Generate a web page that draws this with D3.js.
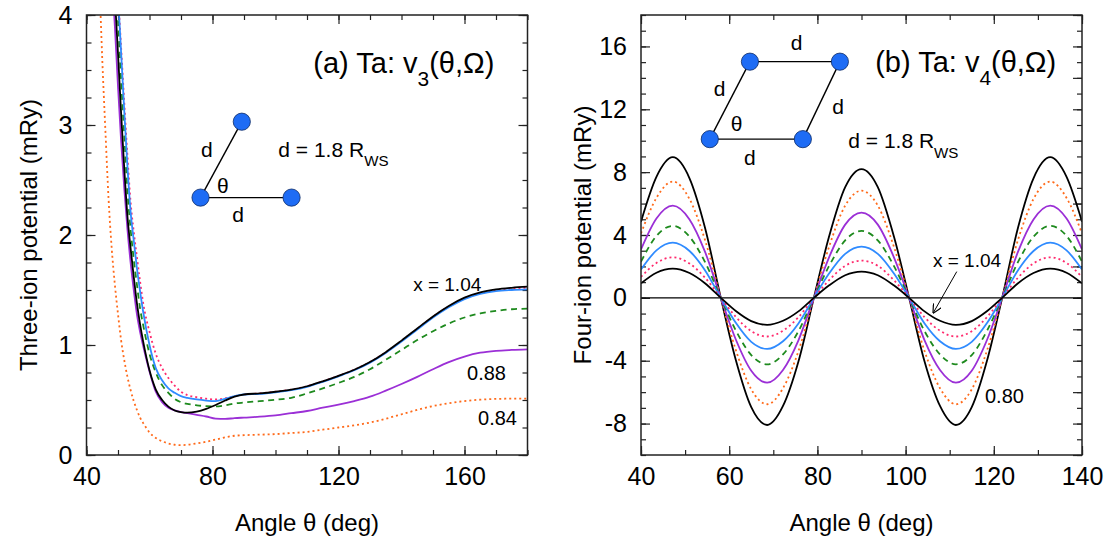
<!DOCTYPE html>
<html><head><meta charset="utf-8">
<script src="https://cdn.jsdelivr.net/npm/d3@7"></script>
<style>
body{margin:0;background:#fff;}
text{font-family:"Liberation Sans",Arial,Helvetica,sans-serif;fill:#000;}
</style></head>
<body><svg id="c" width="1107" height="541"></svg>
<script>
// ---------- Panel (a): three-ion potential ----------
const thetaA = [44,45,46,47,48,49,50,51,52,53,54,55,56,57,58,60,62,64,66,68,70,72,75,78,81,84,87,90,95,100,105,110,115,120,125,130,135,140,145,150,155,160,165,170,175,180];
const v3_104 = [null,null,null,null,4.75,4.17,3.65,3.1,2.6,2.17,1.88,1.62,1.38,1.19,1.03,0.77,0.595,0.50,0.44,0.405,0.39,0.385,0.395,0.42,0.455,0.495,0.53,0.55,0.56,0.575,0.595,0.625,0.67,0.72,0.775,0.845,0.935,1.04,1.15,1.26,1.355,1.43,1.478,1.505,1.52,1.53];
const v3_100 = [null,null,null,null,null,4.7,4.2,3.7,3.2,2.72,2.3,2.03,1.8,1.58,1.38,1.12,0.92,0.79,0.70,0.63,0.575,0.545,0.525,0.512,0.505,0.515,0.535,0.55,0.56,0.575,0.595,0.625,0.67,0.72,0.775,0.845,0.933,1.037,1.147,1.257,1.351,1.425,1.472,1.498,1.513,1.52];
const v3_096 = [null,null,null,null,null,4.65,4.18,3.65,3.12,2.62,2.21,1.95,1.7,1.49,1.30,1.0,0.79,0.68,0.605,0.565,0.535,0.52,0.505,0.495,0.49,0.51,0.535,0.55,0.555,0.57,0.59,0.62,0.665,0.715,0.77,0.84,0.928,1.031,1.14,1.249,1.343,1.417,1.464,1.49,1.5,1.505];
const v3_092 = [null,null,null,null,5.0,4.45,3.95,3.4,2.9,2.4,2.05,1.78,1.55,1.335,1.18,0.92,0.75,0.635,0.565,0.51,0.48,0.465,0.452,0.444,0.442,0.452,0.468,0.477,0.49,0.502,0.52,0.56,0.605,0.655,0.71,0.78,0.865,0.955,1.045,1.125,1.195,1.25,1.287,1.31,1.325,1.33];
const v3_088 = [null,null,null,5.0,4.4,3.9,3.35,2.85,2.42,2.05,1.75,1.5,1.28,1.12,0.99,0.76,0.575,0.48,0.43,0.405,0.39,0.38,0.365,0.35,0.33,0.328,0.335,0.34,0.348,0.36,0.38,0.40,0.43,0.457,0.49,0.53,0.585,0.645,0.71,0.78,0.845,0.895,0.93,0.947,0.955,0.96];
const v3_084 = [4.4,3.6,2.95,2.33,1.88,1.55,1.28,1.04,0.86,0.71,0.59,0.49,0.41,0.34,0.29,0.205,0.155,0.125,0.105,0.093,0.09,0.093,0.105,0.12,0.14,0.16,0.175,0.18,0.185,0.19,0.2,0.21,0.23,0.25,0.27,0.295,0.33,0.37,0.41,0.445,0.47,0.49,0.503,0.51,0.512,0.512];
const xTicksA = [40,80,120,160];
const yTicksA = [0,1,2,3,4];

// ---------- Panel (b): four-ion potential ----------
const thetaB = [40,43.5,47.2,51,54.5,58.1,61.5,65,68.6,72.2,75.7,79.2,82.6,86.3,90,93.7,97.4,100.8,104.3,107.8,111.4,115,118.5,121.9,125.5,129,132.8,136.5,140];
const v4_080 = [4.85,7.70,8.95,7.61,4.48,0,-3.96,-6.96,-8.09,-6.88,-4.05,0,3.85,7.04,8.19,7.04,3.85,0,-4.05,-6.88,-8.09,-6.96,-3.96,0,4.48,7.61,8.95,7.70,4.85];
const v4_084 = [4.1,6.36,7.40,6.29,3.70,0,-3.32,-5.82,-6.77,-5.75,-3.39,0,3.21,5.87,6.82,5.87,3.21,0,-3.39,-5.75,-6.77,-5.82,-3.32,0,3.70,6.29,7.40,6.36,4.1];
const v4_088 = [3.08,5.05,5.87,4.99,2.94,0,-2.65,-4.64,-5.40,-4.59,-2.70,0,2.55,4.66,5.42,4.66,2.55,0,-2.70,-4.59,-5.40,-4.64,-2.65,0,2.94,4.99,5.87,5.05,3.08];
const v4_092 = [2.3,3.94,4.58,3.89,2.29,0,-2.07,-3.64,-4.23,-3.60,-2.12,0,2.00,3.66,4.26,3.66,2.00,0,-2.12,-3.60,-4.23,-3.64,-2.07,0,2.29,3.89,4.58,3.94,2.3];
const v4_096 = [1.8,3.02,3.51,2.98,1.76,0,-1.59,-2.80,-3.25,-2.76,-1.63,0,1.53,2.80,3.26,2.80,1.53,0,-1.63,-2.76,-3.25,-2.80,-1.59,0,1.76,2.98,3.51,3.02,1.8];
const v4_100 = [1.33,2.22,2.58,2.19,1.29,0,-1.21,-2.12,-2.46,-2.09,-1.23,0,1.11,2.04,2.37,2.04,1.11,0,-1.23,-2.09,-2.46,-2.12,-1.21,0,1.29,2.19,2.58,2.22,1.33];
const v4_104 = [0.92,1.60,1.86,1.58,0.93,0,-0.84,-1.48,-1.72,-1.46,-0.86,0,0.78,1.44,1.67,1.44,0.78,0,-0.86,-1.46,-1.72,-1.48,-0.84,0,0.93,1.58,1.86,1.60,0.92];
const xTicksB = [40,60,80,100,120,140];
const yTicksB = [-8,-4,0,4,8,12,16];

// ---------- styles ----------
const styles = {
  "1.04": {color:"#000000", dash:null},
  "1.00": {color:"#ff2a6d", dash:"2,3"},
  "0.96": {color:"#2f8bff", dash:null},
  "0.92": {color:"#1e8a1e", dash:"6,4.5"},
  "0.88": {color:"#9b2fd6", dash:null},
  "0.84": {color:"#ff6a1a", dash:"2,3"},
  "0.80": {color:"#000000", dash:null}
};

const svg = d3.select("#c");
const FONT_TICK = 25;
const FONT_TITLE = 24;

function panel(opts){
  const g = svg.append("g");
  const x = d3.scaleLinear().domain(opts.xd).range(opts.xr);
  const y = d3.scaleLinear().domain(opts.yd).range(opts.yr);
  const clipId = "clip"+opts.id;
  svg.append("clipPath").attr("id",clipId).append("rect")
    .attr("x",opts.xr[0]).attr("y",opts.yr[1]).attr("width",opts.xr[1]-opts.xr[0]).attr("height",opts.yr[0]-opts.yr[1]);

  const ax = (axis, tr) => { const a = g.append("g").attr("transform",tr).call(axis);
    a.select(".domain").remove(); a.selectAll("line").attr("stroke","#222").attr("stroke-width",1.2);
    a.selectAll("text").attr("font-size",FONT_TICK).attr("font-family","Liberation Sans, Arial, sans-serif").attr("fill","#000"); return a; };
  const y0 = opts.yr[0], y1 = opts.yr[1], x0 = opts.xr[0], x1 = opts.xr[1];
  // minor
  ax(d3.axisBottom(x).tickValues(opts.xMinor).tickSize(-5).tickFormat(""), `translate(0,${y0})`);
  ax(d3.axisTop(x).tickValues(opts.xMinor).tickSize(-5).tickFormat(""), `translate(0,${y1})`);
  ax(d3.axisLeft(y).tickValues(opts.yMinor).tickSize(-5).tickFormat(""), `translate(${x0},0)`);
  ax(d3.axisRight(y).tickValues(opts.yMinor).tickSize(-5).tickFormat(""), `translate(${x1},0)`);
  // major
  ax(d3.axisBottom(x).tickValues(opts.xTicks).tickSize(-9).tickPadding(12).tickFormat(d3.format("d")), `translate(0,${y0})`);
  ax(d3.axisTop(x).tickValues(opts.xTicks).tickSize(-9).tickFormat(""), `translate(0,${y1})`);
  ax(d3.axisLeft(y).tickValues(opts.yTicks).tickSize(-9).tickPadding(14).tickFormat(d=>String(d)), `translate(${x0},0)`);
  ax(d3.axisRight(y).tickValues(opts.yMajorNoLabel||opts.yTicks).tickSize(-9).tickFormat(""), `translate(${x1},0)`);

  const curves = g.append("g").attr("clip-path",`url(#${clipId})`);
  if (opts.zeroLine) curves.append("line").attr("x1",x0).attr("x2",x1).attr("y1",y(0)).attr("y2",y(0)).attr("stroke","#000").attr("stroke-width",1.4);
  opts.series.forEach(s => {
    const st = styles[s.key];
    const line = d3.line().defined(d=>d[1]!==null).x(d=>x(d[0])).y(d=>y(d[1])).curve(d3.curveMonotoneX);
    curves.append("path").datum(s.theta.map((t,i)=>[t,s.vals[i]]))
      .attr("d",line).attr("fill","none").attr("stroke",st.color).attr("stroke-width",1.8)
      .attr("stroke-dasharray",st.dash);
  });
  g.append("rect").attr("x",x0).attr("y",y1).attr("width",x1-x0).attr("height",y0-y1)
    .attr("fill","none").attr("stroke","#222").attr("stroke-width",1.5);
  // axis titles
  g.append("text").attr("x",(x0+x1)/2).attr("y",531).attr("text-anchor","middle").attr("font-size",FONT_TITLE).text("Angle θ (deg)");
  g.append("text").attr("transform",`translate(${opts.ylabX},${(y0+y1)/2}) rotate(-90)`).attr("text-anchor","middle").attr("font-size",FONT_TITLE).text(opts.ylab);
  return {g,x,y};
}

function range(a,b,s){const r=[];for(let v=a;v<=b+1e-9;v+=s)r.push(+v.toFixed(4));return r;}

// Panel (a)
const A = panel({id:"a", xd:[40,180], xr:[86.5,527.5], yd:[0,4], yr:[455,15],
  xTicks:xTicksA, yTicks:yTicksA, xMinor:range(40,180,10), yMinor:range(0,4,0.25),
  ylab:"Three-ion potential (mRy)", ylabX:37,
  series:[
    {key:"0.84",theta:thetaA,vals:v3_084},
    {key:"0.88",theta:thetaA,vals:v3_088},
    {key:"0.92",theta:thetaA,vals:v3_092},
    {key:"1.00",theta:thetaA,vals:v3_100},
    {key:"0.96",theta:thetaA,vals:v3_096},
    {key:"1.04",theta:thetaA,vals:v3_104}
  ]});

// Panel (b)
const B = panel({id:"b", xd:[40,140], xr:[641,1082], yd:[-10,18], yr:[455,15],
  xTicks:xTicksB, yTicks:yTicksB, xMinor:range(40,140,10), yMinor:range(-10,18,1), yMajorNoLabel:range(-10,18,2),
  ylab:"Four-ion potential (mRy)", ylabX:591, zeroLine:true,
  series:[
    {key:"0.80",theta:thetaB,vals:v4_080},
    {key:"0.84",theta:thetaB,vals:v4_084},
    {key:"0.88",theta:thetaB,vals:v4_088},
    {key:"0.92",theta:thetaB,vals:v4_092},
    {key:"0.96",theta:thetaB,vals:v4_096},
    {key:"1.00",theta:thetaB,vals:v4_100},
    {key:"1.04",theta:thetaB,vals:v4_104}
  ]});

// ---------- annotations ----------
const ATOM = "#1e6cf5";
function bond(P,a,b){P.g.append("line").attr("x1",P.x(a[0])).attr("y1",P.y(a[1])).attr("x2",P.x(b[0])).attr("y2",P.y(b[1])).attr("stroke","#000").attr("stroke-width",1.4);}
function atom(P,a){P.g.append("circle").attr("cx",P.x(a[0])).attr("cy",P.y(a[1])).attr("r",8.6).attr("fill",ATOM).attr("stroke","#0b2a66").attr("stroke-width",0.8);}
function label(P,p,txt,size,anchor){return P.g.append("text").attr("x",P.x(p[0])).attr("y",P.y(p[1])).attr("font-size",size).attr("text-anchor",anchor||"start").text(txt);}
function sub(P,p,main,s,after,size){
  const t = P.g.append("text").attr("x",P.x(p[0])).attr("y",P.y(p[1])).attr("font-size",size);
  t.append("tspan").text(main);
  t.append("tspan").attr("dy",size*0.45).attr("font-size",size*0.72).text(s);
  if(after) t.append("tspan").attr("dy",-size*0.45).text(after);
  return t;
}

// (a) inset
const a1=[76.2,2.34], a2=[89.3,3.03], a3=[105.1,2.34];
bond(A,a1,a2); bond(A,a1,a3); atom(A,a1); atom(A,a2); atom(A,a3);
label(A,[78.2,2.71],"d",21,"middle");
label(A,[83.3,2.38],"θ",21,"middle");
label(A,[88.1,2.12],"d",21,"middle");
sub(A,[100.9,2.71],"d = 1.8 R","WS",null,21);
sub(A,[112,3.47],"(a) Ta: v","3","(θ,Ω)",29);
label(A,[143.7,1.49],"x = 1.04",19);
label(A,[160.8,0.68],"0.88",20);
label(A,[164.3,0.27],"0.84",20);

// (b) inset
const b1=[55.6,10.1], b2=[76.7,10.1], b3=[64.7,15.03], b4=[85.1,15.03];
bond(B,b1,b2); bond(B,b1,b3); bond(B,b3,b4); bond(B,b2,b4);
[b1,b2,b3,b4].forEach(p=>atom(B,p));
label(B,[75.3,15.79],"d",21,"middle");
label(B,[57.8,12.86],"d",21,"middle");
label(B,[84.7,11.72],"d",21,"middle");
label(B,[61.7,10.64],"θ",21,"middle");
label(B,[64.7,8.47],"d",21,"middle");
sub(B,[93.1,14.4],"(b) Ta: v","4","(θ,Ω)",29);
sub(B,[87.0,9.52],"d = 1.8 R","WS",null,21);
label(B,[106.2,1.97],"x = 1.04",19);
label(B,[118,-6.69],"0.80",20);
// arrow
const defs = svg.append("defs");
defs.append("marker").attr("id","arr").attr("viewBox","0 0 10 10").attr("refX",9).attr("refY",5)
  .attr("markerWidth",9).attr("markerHeight",9).attr("markerUnits","userSpaceOnUse").attr("orient","auto")
  .append("path").attr("d","M0,0 L10,5 L0,10").attr("fill","none").attr("stroke","#000").attr("stroke-width",1.3);
B.g.append("line").attr("x1",B.x(111.6)).attr("y1",B.y(1.67)).attr("x2",B.x(106.3)).attr("y2",B.y(-0.94))
  .attr("stroke","#000").attr("stroke-width",1).attr("marker-end","url(#arr)");
</script></body></html>
